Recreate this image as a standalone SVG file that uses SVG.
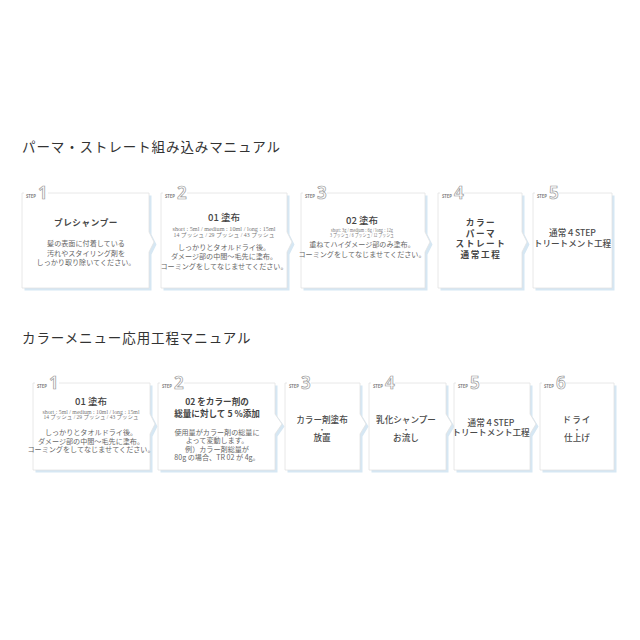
<svg xmlns="http://www.w3.org/2000/svg" width="640" height="640" viewBox="0 0 640 640">
<style>
.bg{fill:#ffffff}
.sh{fill:#d6e7f3}
.cd{fill:#ffffff;stroke:#e2e2e2;stroke-width:0.8}
.cut{fill:#ffffff}
.stp{font-family:"Noto Sans","Noto Sans CJK JP",sans-serif;font-size:4.3px;font-weight:700;fill:#888}
.num{font-family:"Noto Sans","Noto Sans CJK JP",sans-serif;font-size:17px;font-weight:600;fill:#ffffff;stroke:#999999;stroke-width:0.7}
.ttl{font-family:"Noto Sans CJK JP","Noto Sans",sans-serif;font-size:13.5px;fill:#333;letter-spacing:0.9px}
.h{font-family:"Noto Sans CJK JP","Noto Sans",sans-serif;font-size:8.6px;font-weight:700;fill:#444;text-anchor:middle}
.m{font-family:"Noto Sans CJK JP","Noto Sans",sans-serif;font-size:8.6px;font-weight:500;fill:#4a4a4a;text-anchor:middle}
.dot{font-family:"Noto Sans CJK JP","Noto Sans",sans-serif;font-size:6.5px;font-weight:700;fill:#555;text-anchor:middle}
.h2{font-family:"Noto Sans CJK JP","Noto Sans",sans-serif;font-size:9.5px;font-weight:500;fill:#444;text-anchor:middle}
.b{font-family:"Noto Sans CJK JP","Noto Sans",sans-serif;font-size:7.1px;fill:#666;text-anchor:middle}
.s{font-family:"Liberation Serif","Noto Sans CJK JP",serif;font-size:5.2px;fill:#777;text-anchor:middle}
</style>
<rect class="bg" x="0" y="0" width="640" height="640"/>
<text class="ttl" x="22" y="152">パーマ・ストレート組み込みマニュアル</text>
<text class="ttl" x="22" y="343">カラーメニュー応用工程マニュアル</text>

<!-- top row -->
<g id="t1">
<path class="sh" transform="translate(2.5,2.5)" d="M22 193H149V232L154 242L149 252V288H22Z"/>
<path class="cd" d="M22 193H149V232L154 242L149 252V288H22Z"/>
<rect class="cut" x="24" y="189" width="24" height="7"/>
<text class="stp" x="26" y="197.5">STEP</text>
<text class="num" x="38" y="199">1</text>
<text class="h" x="86" y="226" letter-spacing="0.6">プレシャンプー</text>
<text class="b" x="86" y="246">髪の表面に付着している</text>
<text class="b" x="86" y="255.5">汚れやスタイリング剤を</text>
<text class="b" x="86" y="265">しっかり取り除いてください。</text>
</g>
<g id="t2">
<path class="sh" transform="translate(2.5,2.5)" d="M161 193H287V232L292 242L287 252V288H161Z"/>
<path class="cd" d="M161 193H287V232L292 242L287 252V288H161Z"/>
<rect class="cut" x="163" y="189" width="24" height="7"/>
<text class="stp" x="165" y="197.5">STEP</text>
<text class="num" x="177" y="199">2</text>
<text class="h2" x="224" y="221">01 塗布</text>
<text class="s" x="224" y="231" textLength="103" lengthAdjust="spacingAndGlyphs">short : 5ml / medium : 10ml / long : 15ml</text>
<text class="s" x="224" y="236.5" textLength="101" lengthAdjust="spacingAndGlyphs">14 プッシュ / 29 プッシュ / 43 プッシュ</text>
<text class="b" x="224" y="249.5">しっかりとタオルドライ後。</text>
<text class="b" x="224" y="259">ダメージ部の中間〜毛先に塗布。</text>
<text class="b" x="224" y="268.5">コーミングをしてなじませてください。</text>
</g>
<g id="t3">
<path class="sh" transform="translate(2.5,2.5)" d="M301 193H425V232L430 242L425 252V288H301Z"/>
<path class="cd" d="M301 193H425V232L430 242L425 252V288H301Z"/>
<rect class="cut" x="303" y="189" width="24" height="7"/>
<text class="stp" x="305" y="197.5">STEP</text>
<text class="num" x="317" y="199">3</text>
<text class="h2" x="362" y="224">02 塗布</text>
<text class="s" x="362" y="232" textLength="62" lengthAdjust="spacingAndGlyphs">short: 3g / medium : 6g / long : 12g</text>
<text class="s" x="362" y="237" textLength="64" lengthAdjust="spacingAndGlyphs">3 プッシュ / 6 プッシュ / 12 プッシュ</text>
<text class="b" x="362" y="247">重ねてハイダメージ部のみ塗布。</text>
<text class="b" x="362" y="256.5">コーミングをしてなじませてください。</text>
</g>
<g id="t4">
<path class="sh" transform="translate(2.5,2.5)" d="M438 193H522V232L527 242L522 252V288H438Z"/>
<path class="cd" d="M438 193H522V232L527 242L522 252V288H438Z"/>
<rect class="cut" x="440" y="189" width="24" height="7"/>
<text class="stp" x="442" y="197.5">STEP</text>
<text class="num" x="454" y="199">4</text>
<text class="h" x="481" y="226" letter-spacing="1.6">カラー</text>
<text class="h" x="481" y="236.5" letter-spacing="1.6">パーマ</text>
<text class="h" x="481" y="247" letter-spacing="1.6">ストレート</text>
<text class="h" x="481" y="258" letter-spacing="1.6">通常工程</text>
</g>
<g id="t5">
<path class="sh" transform="translate(2.5,2.5)" d="M533 193H612V288H533Z"/>
<path class="cd" d="M533 193H612V288H533Z"/>
<rect class="cut" x="535" y="189" width="24" height="7"/>
<text class="stp" x="537" y="197.5">STEP</text>
<text class="num" x="549" y="199">5</text>
<text class="m" x="572.5" y="236">通常４STEP</text>
<text class="m" x="572.5" y="246.5">トリートメント工程</text>
</g>

<!-- bottom row -->
<g id="b1">
<path class="sh" transform="translate(2.5,2.5)" d="M33 383H150V414L155 424L150 434V470H33Z"/>
<path class="cd" d="M33 383H150V414L155 424L150 434V470H33Z"/>
<rect class="cut" x="35" y="379" width="24" height="7"/>
<text class="stp" x="37" y="387.5">STEP</text>
<text class="num" x="49" y="389">1</text>
<text class="h2" x="91" y="405">01 塗布</text>
<text class="s" x="91" y="414" textLength="97" lengthAdjust="spacingAndGlyphs">short : 5ml / medium : 10ml / long : 15ml</text>
<text class="s" x="91" y="419" textLength="95" lengthAdjust="spacingAndGlyphs">14 プッシュ / 29 プッシュ / 43 プッシュ</text>
<text class="b" x="91" y="434.5">しっかりとタオルドライ後。</text>
<text class="b" x="91" y="443.5">ダメージ部の中間〜毛先に塗布。</text>
<text class="b" x="91" y="452">コーミングをしてなじませてください。</text>
</g>
<g id="b2">
<path class="sh" transform="translate(2.5,2.5)" d="M158 383H275V414L282 424L275 434V470H158Z"/>
<path class="cd" d="M158 383H275V414L282 424L275 434V470H158Z"/>
<rect class="cut" x="160" y="379" width="24" height="7"/>
<text class="stp" x="162" y="387.5">STEP</text>
<text class="num" x="174" y="389">2</text>
<text class="h" x="217" y="405" font-size="9">02 をカラー剤の</text>
<text class="h" x="217" y="416.5" font-size="9">総量に対して 5 %添加</text>
<text class="b" x="217" y="434.5">使用量がカラー剤の総量に</text>
<text class="b" x="217" y="443">よって変動します。</text>
<text class="b" x="217" y="451.5">例）カラー剤総量が</text>
<text class="b" x="217" y="460">80g の場合、TR 02 が 4g。</text>
</g>
<g id="b3">
<path class="sh" transform="translate(2.5,2.5)" d="M285 383H360V414L366 424L360 434V470H285Z"/>
<path class="cd" d="M285 383H360V414L366 424L360 434V470H285Z"/>
<rect class="cut" x="287" y="379" width="24" height="7"/>
<text class="stp" x="289" y="387.5">STEP</text>
<text class="num" x="301" y="389">3</text>
<text class="m" x="322" y="423">カラー剤塗布</text>
<text class="dot" x="322" y="432">・</text>
<text class="m" x="322" y="441">放置</text>
</g>
<g id="b4">
<path class="sh" transform="translate(2.5,2.5)" d="M369 383H446V414L452 424L446 434V470H369Z"/>
<path class="cd" d="M369 383H446V414L452 424L446 434V470H369Z"/>
<rect class="cut" x="371" y="379" width="24" height="7"/>
<text class="stp" x="373" y="387.5">STEP</text>
<text class="num" x="385" y="389">4</text>
<text class="m" x="406" y="423">乳化シャンプー</text>
<text class="dot" x="406" y="432">・</text>
<text class="m" x="406" y="441">お流し</text>
</g>
<g id="b5">
<path class="sh" transform="translate(2.5,2.5)" d="M454 383H530V414L536 424L530 434V470H454Z"/>
<path class="cd" d="M454 383H530V414L536 424L530 434V470H454Z"/>
<rect class="cut" x="456" y="379" width="24" height="7"/>
<text class="stp" x="458" y="387.5">STEP</text>
<text class="num" x="470" y="389">5</text>
<text class="m" x="491" y="425.5">通常４STEP</text>
<text class="m" x="491" y="436">トリートメント工程</text>
</g>
<g id="b6">
<path class="sh" transform="translate(2.5,2.5)" d="M540 383H614V470H540Z"/>
<path class="cd" d="M540 383H614V470H540Z"/>
<rect class="cut" x="542" y="379" width="24" height="7"/>
<text class="stp" x="544" y="387.5">STEP</text>
<text class="num" x="556" y="389">6</text>
<text class="m" x="577" y="423" letter-spacing="1">ドライ</text>
<text class="dot" x="577" y="432">・</text>
<text class="m" x="577" y="441">仕上げ</text>
</g>
<g id="connectors"></g>
</svg>
